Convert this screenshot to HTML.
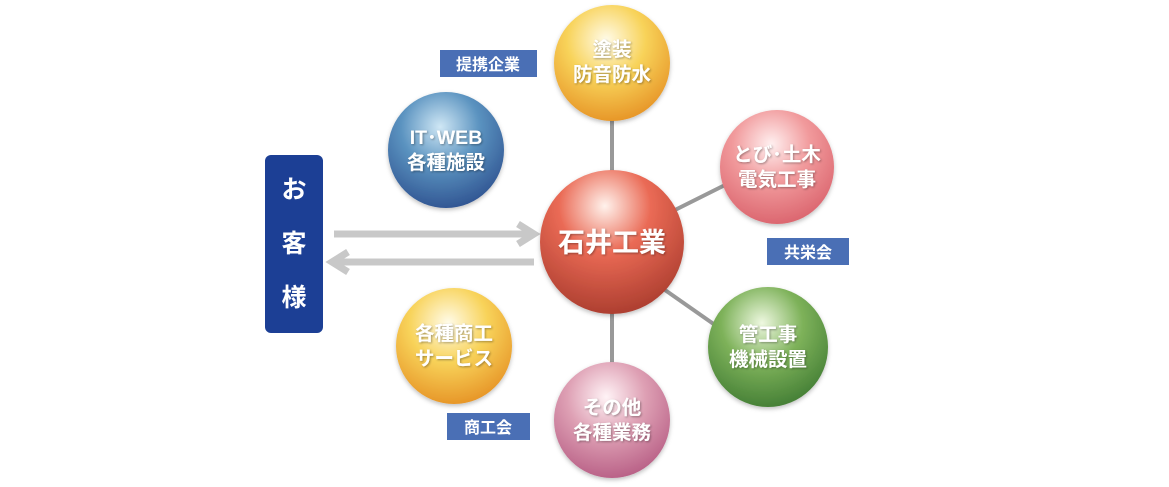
<!DOCTYPE html>
<html><head><meta charset="utf-8"><style>
html,body{margin:0;padding:0;background:#fff;width:1169px;height:487px;overflow:hidden}
svg{display:block}
text{font-family:"Liberation Sans","Noto Sans CJK JP",sans-serif;font-weight:bold}
</style></head><body>
<svg width="1169" height="487" viewBox="0 0 1169 487">
<defs>
<radialGradient id="gY" cx="0.45" cy="0.3" r="0.75"><stop offset="0" stop-color="#fffbe8"/><stop offset="0.45" stop-color="#f8d35a"/><stop offset="1" stop-color="#e58f22"/></radialGradient>
<radialGradient id="gB" cx="0.45" cy="0.3" r="0.75"><stop offset="0" stop-color="#cfe7f5"/><stop offset="0.45" stop-color="#5b93c0"/><stop offset="1" stop-color="#2c4f8e"/></radialGradient>
<radialGradient id="gP" cx="0.45" cy="0.3" r="0.75"><stop offset="0" stop-color="#fff0f0"/><stop offset="0.45" stop-color="#f19a9c"/><stop offset="1" stop-color="#d9606a"/></radialGradient>
<radialGradient id="gR" cx="0.45" cy="0.25" r="0.8"><stop offset="0" stop-color="#fff2ec"/><stop offset="0.4" stop-color="#ea6a55"/><stop offset="1" stop-color="#a73a2c"/></radialGradient>
<radialGradient id="gG" cx="0.45" cy="0.3" r="0.75"><stop offset="0" stop-color="#eef8e0"/><stop offset="0.45" stop-color="#7eb25a"/><stop offset="1" stop-color="#3f7a32"/></radialGradient>
<radialGradient id="gM" cx="0.45" cy="0.3" r="0.75"><stop offset="0" stop-color="#fff3f6"/><stop offset="0.45" stop-color="#dea0b4"/><stop offset="1" stop-color="#b55a82"/></radialGradient>
<filter id="sh" x="-20%" y="-20%" width="140%" height="140%"><feDropShadow dx="0" dy="2" stdDeviation="2" flood-opacity="0.25"/></filter>
<filter id="ts" x="-20%" y="-20%" width="140%" height="140%"><feDropShadow dx="1" dy="1" stdDeviation="1" flood-opacity="0.35"/></filter>
</defs>
<g stroke="#999" stroke-width="4">
<line x1="612" y1="120" x2="612" y2="175"/>
<line x1="612" y1="310" x2="612" y2="365"/>
<line x1="675" y1="210" x2="725" y2="185"/>
<line x1="665" y1="290" x2="715" y2="325"/>
</g>
<g fill="none" stroke="#c8c8c8" stroke-width="7">
<line x1="334" y1="234" x2="532" y2="234"/>
<polyline points="518,224 534,234 518,244"/>
<line x1="534" y1="262" x2="334" y2="262"/>
<polyline points="348,252 332,262 348,272"/>
</g>
<rect x="265" y="155" width="58" height="178" rx="6" fill="#1c3f95"/>
<g fill="#fff" font-size="25" text-anchor="middle">
<text x="294" y="198">お</text><text x="294" y="252">客</text><text x="294" y="306">様</text>
</g>
<g filter="url(#sh)">
<circle cx="612" cy="63" r="58" fill="url(#gY)"/>
<circle cx="446" cy="150" r="58" fill="url(#gB)"/>
<circle cx="777" cy="167" r="57" fill="url(#gP)"/>
<circle cx="612" cy="242" r="72" fill="url(#gR)"/>
<circle cx="768" cy="347" r="60" fill="url(#gG)"/>
<circle cx="454" cy="346" r="58" fill="url(#gY)"/>
<circle cx="612" cy="420" r="58" fill="url(#gM)"/>
</g>
<g fill="#fff" font-size="19.5" text-anchor="middle" filter="url(#ts)">
<text x="612" y="56">塗装</text><text x="612" y="81">防音防水</text>
<text x="446" y="144">IT･WEB</text><text x="446" y="169">各種施設</text>
<text x="777" y="161">とび･土木</text><text x="777" y="186">電気工事</text>
<text x="768" y="341">管工事</text><text x="768" y="366">機械設置</text>
<text x="454" y="340">各種商工</text><text x="454" y="365">サービス</text>
<text x="612" y="414">その他</text><text x="612" y="439">各種業務</text>
<text x="612" y="252" font-size="27">石井工業</text>
</g>
<rect x="440" y="50" width="97" height="27" fill="#4a6fb5"/>
<rect x="767" y="238" width="82" height="27" fill="#4a6fb5"/>
<rect x="447" y="413" width="83" height="27" fill="#4a6fb5"/>
<g fill="#fff" font-size="16" text-anchor="middle">
<text x="488" y="70">提携企業</text>
<text x="808" y="258">共栄会</text>
<text x="488" y="433">商工会</text>
</g>
</svg>
</body></html>
